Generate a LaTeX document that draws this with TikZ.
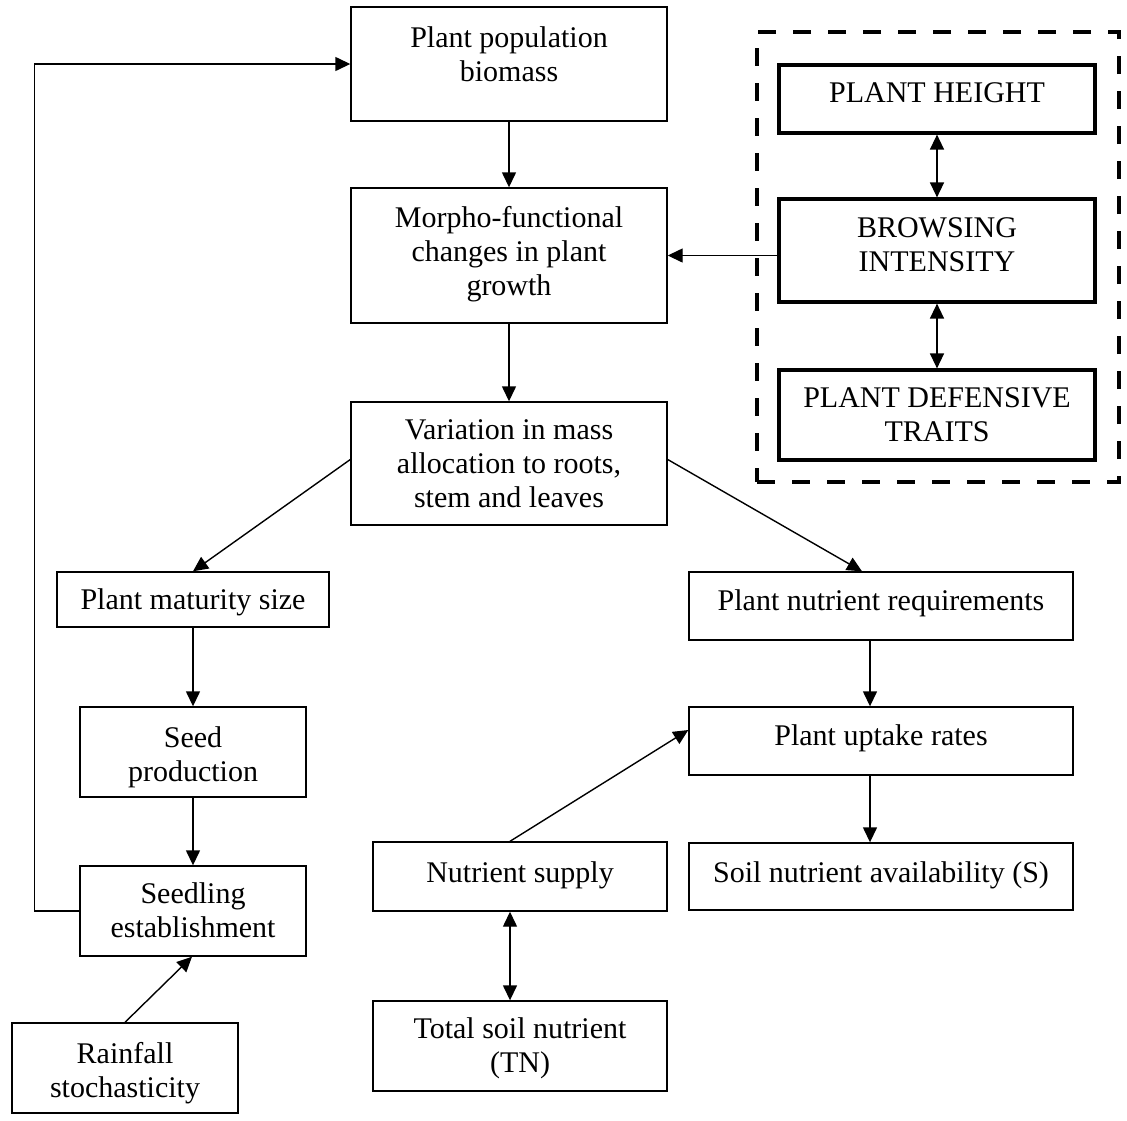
\documentclass[tikz,border=0pt]{standalone}
\usepackage{fontspec}
\setmainfont{Liberation Serif}
\usetikzlibrary{arrows.meta}
\tikzset{
  thinbox/.style={draw, line width=1.4pt, inner sep=0pt, rectangle},
  thickbox/.style={draw, line width=3.2pt, inner sep=0pt, rectangle},
  groupbox/.style={draw, line width=4pt, dash pattern=on 18pt off 17pt, inner sep=0pt, rectangle},
  txt/.style={inner sep=0pt, align=center, font=\fontsize{30}{34}\selectfont},
  arr/.style={line width=1.4pt, -{Triangle[length=15pt,width=14pt]}},
  darr/.style={line width=1.4pt, {Triangle[length=15pt,width=14pt]}-{Triangle[length=15pt,width=14pt]}},
}
% #1 style, #2 name, #3 x1, #4 y1, #5 x2, #6 y2, #7 y of text top, #8 text
\newcommand\mybox[8]{%
  \node[#1, minimum width={#5-#3}, minimum height={#6-#4}] (#2) at ({(#3+#5)/2},{(#4+#6)/2}) {};
  \node[txt, anchor=north] (#2-t) at ({(#3+#5)/2},{#7}) {#8};
}
\begin{document}
\begin{tikzpicture}[x=1pt, y=-1pt]
\useasboundingbox (0,0) rectangle (1127,1120);

% main column
\mybox{thinbox}{pop}{351}{7}{667}{121}{26.5}{Plant population\\biomass}
\mybox{thinbox}{morpho}{351}{188}{667}{323}{206.5}{Morpho-functional\\changes in plant\\growth}
\mybox{thinbox}{var}{351}{402}{667}{525}{419.5}{Variation in mass\\allocation to roots,\\stem and leaves}

% left column
\mybox{thinbox}{mat}{57}{572}{329}{627}{588.5}{Plant maturity size}
\mybox{thinbox}{seed}{80}{707}{306}{797}{726.5}{Seed\\production}
\mybox{thinbox}{seedl}{80}{866}{306}{956}{882.5}{Seedling\\establishment}
\mybox{thinbox}{rain}{12}{1023}{238}{1113}{1042.5}{Rainfall\\stochasticity}

% nutrient part
\mybox{thinbox}{nreq}{689}{572}{1073}{640}{589.5}{Plant nutrient requirements}
\mybox{thinbox}{upt}{689}{707}{1073}{775}{724.5}{Plant uptake rates}
\mybox{thinbox}{soil}{689}{843}{1073}{910}{861.5}{Soil nutrient availability (S)}
\mybox{thinbox}{nsup}{373}{842}{667}{911}{861.5}{Nutrient supply}
\mybox{thinbox}{total}{373}{1001}{667}{1091}{1017.5}{Total soil nutrient\\(TN)}

% herbivory group
\node[groupbox, minimum width=362, minimum height=450] (grp) at (938,257) {};
\mybox{thickbox}{height}{779}{65}{1095}{133}{82.5}{PLANT HEIGHT}
\mybox{thickbox}{brow}{779}{199}{1095}{302}{217.5}{BROWSING\\INTENSITY}
\mybox{thickbox}{def}{779}{370}{1095}{460}{387.5}{PLANT DEFENSIVE\\TRAITS}

% connectors
\draw[arr] (pop.south) -- (morpho.north);
\draw[arr] (morpho.south) -- (var.north);
\draw[arr] (brow.west |- morpho.east) -- (morpho.east);
\draw[darr] (height.south) -- (brow.north);
\draw[darr] (brow.south) -- (def.north);
\draw[arr] ([yshift=4pt]var.west) -- (mat.north);
\draw[arr] ([yshift=4pt]var.east) -- ([xshift=-19pt]nreq.north);
\draw[arr] (mat.south) -- (seed.north);
\draw[arr] (seed.south) -- (seedl.north);
\draw[arr] (seedl.west) -- ([xshift=-45pt]seedl.west) |- (pop.west);
\draw[arr] (rain.north) -- ([xshift=-1pt]seedl.south);
\draw[arr] ([xshift=-11pt]nreq.south) -- ([xshift=-11pt]upt.north);
\draw[arr] ([xshift=-11pt]upt.south) -- ([xshift=-11pt]soil.north);
\draw[arr] ([xshift=-10pt]nsup.north) -- ([yshift=11pt]upt.west);
\draw[darr] ([xshift=-10pt]nsup.south) -- ([xshift=-10pt]total.north);
\end{tikzpicture}
\end{document}
